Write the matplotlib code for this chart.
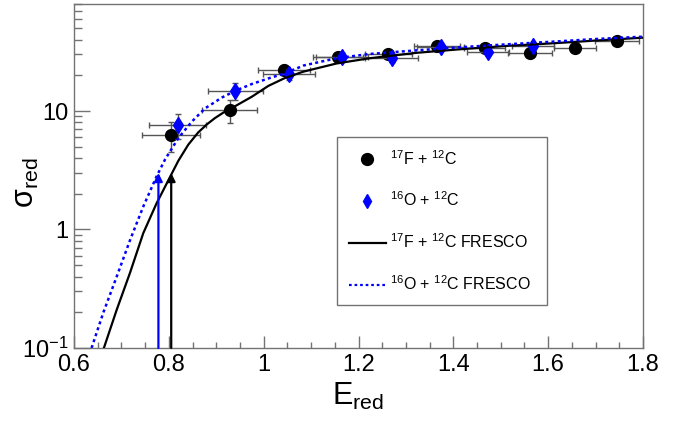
"""reduced cross sections 17F+12C / 16O+12C vs FRESCO"""
import matplotlib
matplotlib.use("Agg")
import matplotlib.pyplot as plt
from matplotlib.lines import Line2D
from matplotlib.ticker import MultipleLocator, LogLocator, NullFormatter

plt.rcParams['font.family'] = ['Liberation Sans', 'DejaVu Sans']
plt.rcParams['mathtext.fontset'] = 'custom'
plt.rcParams['mathtext.rm'] = 'Liberation Sans'
plt.rcParams['mathtext.it'] = 'Liberation Sans:italic'
plt.rcParams['mathtext.bf'] = 'Liberation Sans:bold'

# data points 17F + 12C
f_x = [0.804, 0.928, 1.043, 1.156, 1.263, 1.365, 1.466, 1.562, 1.656, 1.745]
f_y = [6.3, 10.1, 22.2, 28.4, 30.1, 35.6, 33.8, 30.7, 34.2, 38.9]
f_xerr = [0.061, 0.058, 0.054, 0.053, 0.050, 0.049, 0.043, 0.046, 0.044, 0.046]
f_yerr = [1.8, 2.2, 2.2, 2.2, 2.0, 2.0, 2.0, 2.0, 2.0, 2.0]

# data points 16O + 12C
o_x = [0.819, 0.940, 1.054, 1.165, 1.270, 1.373, 1.473, 1.568]
o_y = [7.6, 14.8, 20.5, 28.7, 27.9, 34.9, 31.6, 35.2]
o_xerr = [0.060, 0.058, 0.055, 0.054, 0.056, 0.050, 0.045, 0.045]
o_yerr = [1.8, 2.3, 2.2, 2.2, 2.0, 2.0, 2.0, 2.0]

# FRESCO calculations
fr_f_x = [0.663, 0.69, 0.718, 0.746, 0.774, 0.803, 0.82, 0.841, 0.862, 0.88,
          0.897, 0.915, 0.933, 0.975, 1.01, 1.045, 1.084, 1.154, 1.224, 1.323,
          1.414, 1.511, 1.611, 1.70, 1.80]
fr_f_y = [0.1, 0.21, 0.43, 0.93, 1.66, 2.8, 3.8, 5.2, 6.6, 7.7,
          8.7, 9.7, 10.6, 13.2, 16.3, 19.0, 21.5, 25.2, 27.9, 31.0,
          33.2, 35.4, 37.3, 39.3, 41.6]
fr_o_x = [0.637, 0.662, 0.69, 0.718, 0.746, 0.774, 0.792, 0.82, 0.848, 0.876,
          0.912, 0.94, 0.975, 1.013, 1.045, 1.084, 1.154, 1.224, 1.323, 1.414,
          1.511, 1.611, 1.70, 1.80]
fr_o_y = [0.1, 0.2, 0.4, 0.81, 1.56, 2.8, 3.9, 5.9, 8.1, 10.5,
          13.0, 14.8, 16.9, 19.0, 20.8, 24.2, 27.9, 30.3, 32.5, 34.5,
          36.5, 38.5, 40.5, 42.4]

# arrows (barrier positions)
arr_x = [0.778, 0.805]
arr_top = [3.0, 3.0]
arr_col = ['#0000ff', 'black']

fig = plt.figure(figsize=(6.86, 4.25), dpi=100)
ax = fig.add_axes([0.1079, 0.1812, 0.8294, 0.8094])

ebkw = dict(ecolor='#555555', elinewidth=1, capsize=2, capthick=1, linestyle='none')
ax.errorbar(f_x, f_y, xerr=f_xerr, yerr=f_yerr, fmt='o', color='black', ms=8.5, zorder=3, **ebkw)
ax.errorbar(o_x, o_y, xerr=o_xerr, yerr=o_yerr, fmt='d', color='#0000ff', ms=8.5, zorder=4, **ebkw)

ax.plot(fr_f_x, fr_f_y, '-', color='black', lw=1.6, zorder=5)
ax.plot(fr_o_x, fr_o_y, color='#0000ff', lw=1.8, linestyle=(0, (1.2, 1.3)), zorder=6)

for xa, ya, c in zip(arr_x, arr_top, arr_col):
    ax.annotate('', xy=(xa, ya), xytext=(xa, 0.1),
                arrowprops=dict(arrowstyle='-|>', color=c, lw=1.6, mutation_scale=12,
                                shrinkA=0, shrinkB=0), zorder=7)

ax.set_yscale('log')
ax.set_xlim(0.6, 1.8)
ax.set_ylim(0.1, 80)

ax.xaxis.set_major_locator(MultipleLocator(0.2))
ax.xaxis.set_minor_locator(MultipleLocator(0.05))
ax.set_xticks([0.6, 0.8, 1.0, 1.2, 1.4, 1.6, 1.8])
ax.set_xticklabels(['0.6', '0.8', '1', '1.2', '1.4', '1.6', '1.8'])
ax.set_yticks([0.1, 1, 10])
ax.set_yticklabels([r'$\mathregular{10^{-1}}$', '1', '10'])
ax.yaxis.set_minor_locator(LogLocator(base=10, subs=range(2, 10)))
ax.yaxis.set_minor_formatter(NullFormatter())

for s in ax.spines.values():
    s.set_color('0.45')
    s.set_linewidth(1)
ax.tick_params(which='both', direction='in', color='0.45', width=1, top=False, right=False,
               labelsize=17, labelcolor='black')
ax.tick_params(axis='x', which='major', length=8.5, pad=4)
ax.tick_params(axis='x', which='minor', length=4.3)
ax.tick_params(axis='y', which='major', length=11.5, pad=4)
ax.tick_params(axis='y', which='minor', length=5.8)

ax.set_xlabel(r'E$_{\mathregular{red}}$', fontsize=22)
ax.set_ylabel(r'σ$_{\mathregular{red}}$', fontsize=22)
ax.xaxis.set_label_coords(0.5, -0.095)
ax.yaxis.set_label_coords(-0.058, 0.48)

handles = [
    Line2D([], [], marker='o', color='black', ls='none', ms=8.5),
    Line2D([], [], marker='d', color='#0000ff', ls='none', ms=7.5),
    Line2D([], [], color='black', lw=1.6),
    Line2D([], [], color='#0000ff', lw=1.6, linestyle=(0, (1.2, 1.3))),
]
labels = [r'$\mathregular{^{17}}$F + $\mathregular{^{12}}$C',
          r'$\mathregular{^{16}}$O + $\mathregular{^{12}}$C',
          r'$\mathregular{^{17}}$F + $\mathregular{^{12}}$C FRESCO',
          r'$\mathregular{^{16}}$O + $\mathregular{^{12}}$C FRESCO']
leg = fig.legend(handles, labels, loc='upper left', bbox_to_anchor=(0.491, 0.294, 0.306, 0.384),
                 mode='expand', fontsize=11.5, frameon=True, fancybox=False, framealpha=1,
                 edgecolor='0.45', borderpad=0.75, labelspacing=1.45, handlelength=2.3,
                 handletextpad=0.25, borderaxespad=0)
leg.get_frame().set_linewidth(1)

fig.savefig('out.png', dpi=100)
